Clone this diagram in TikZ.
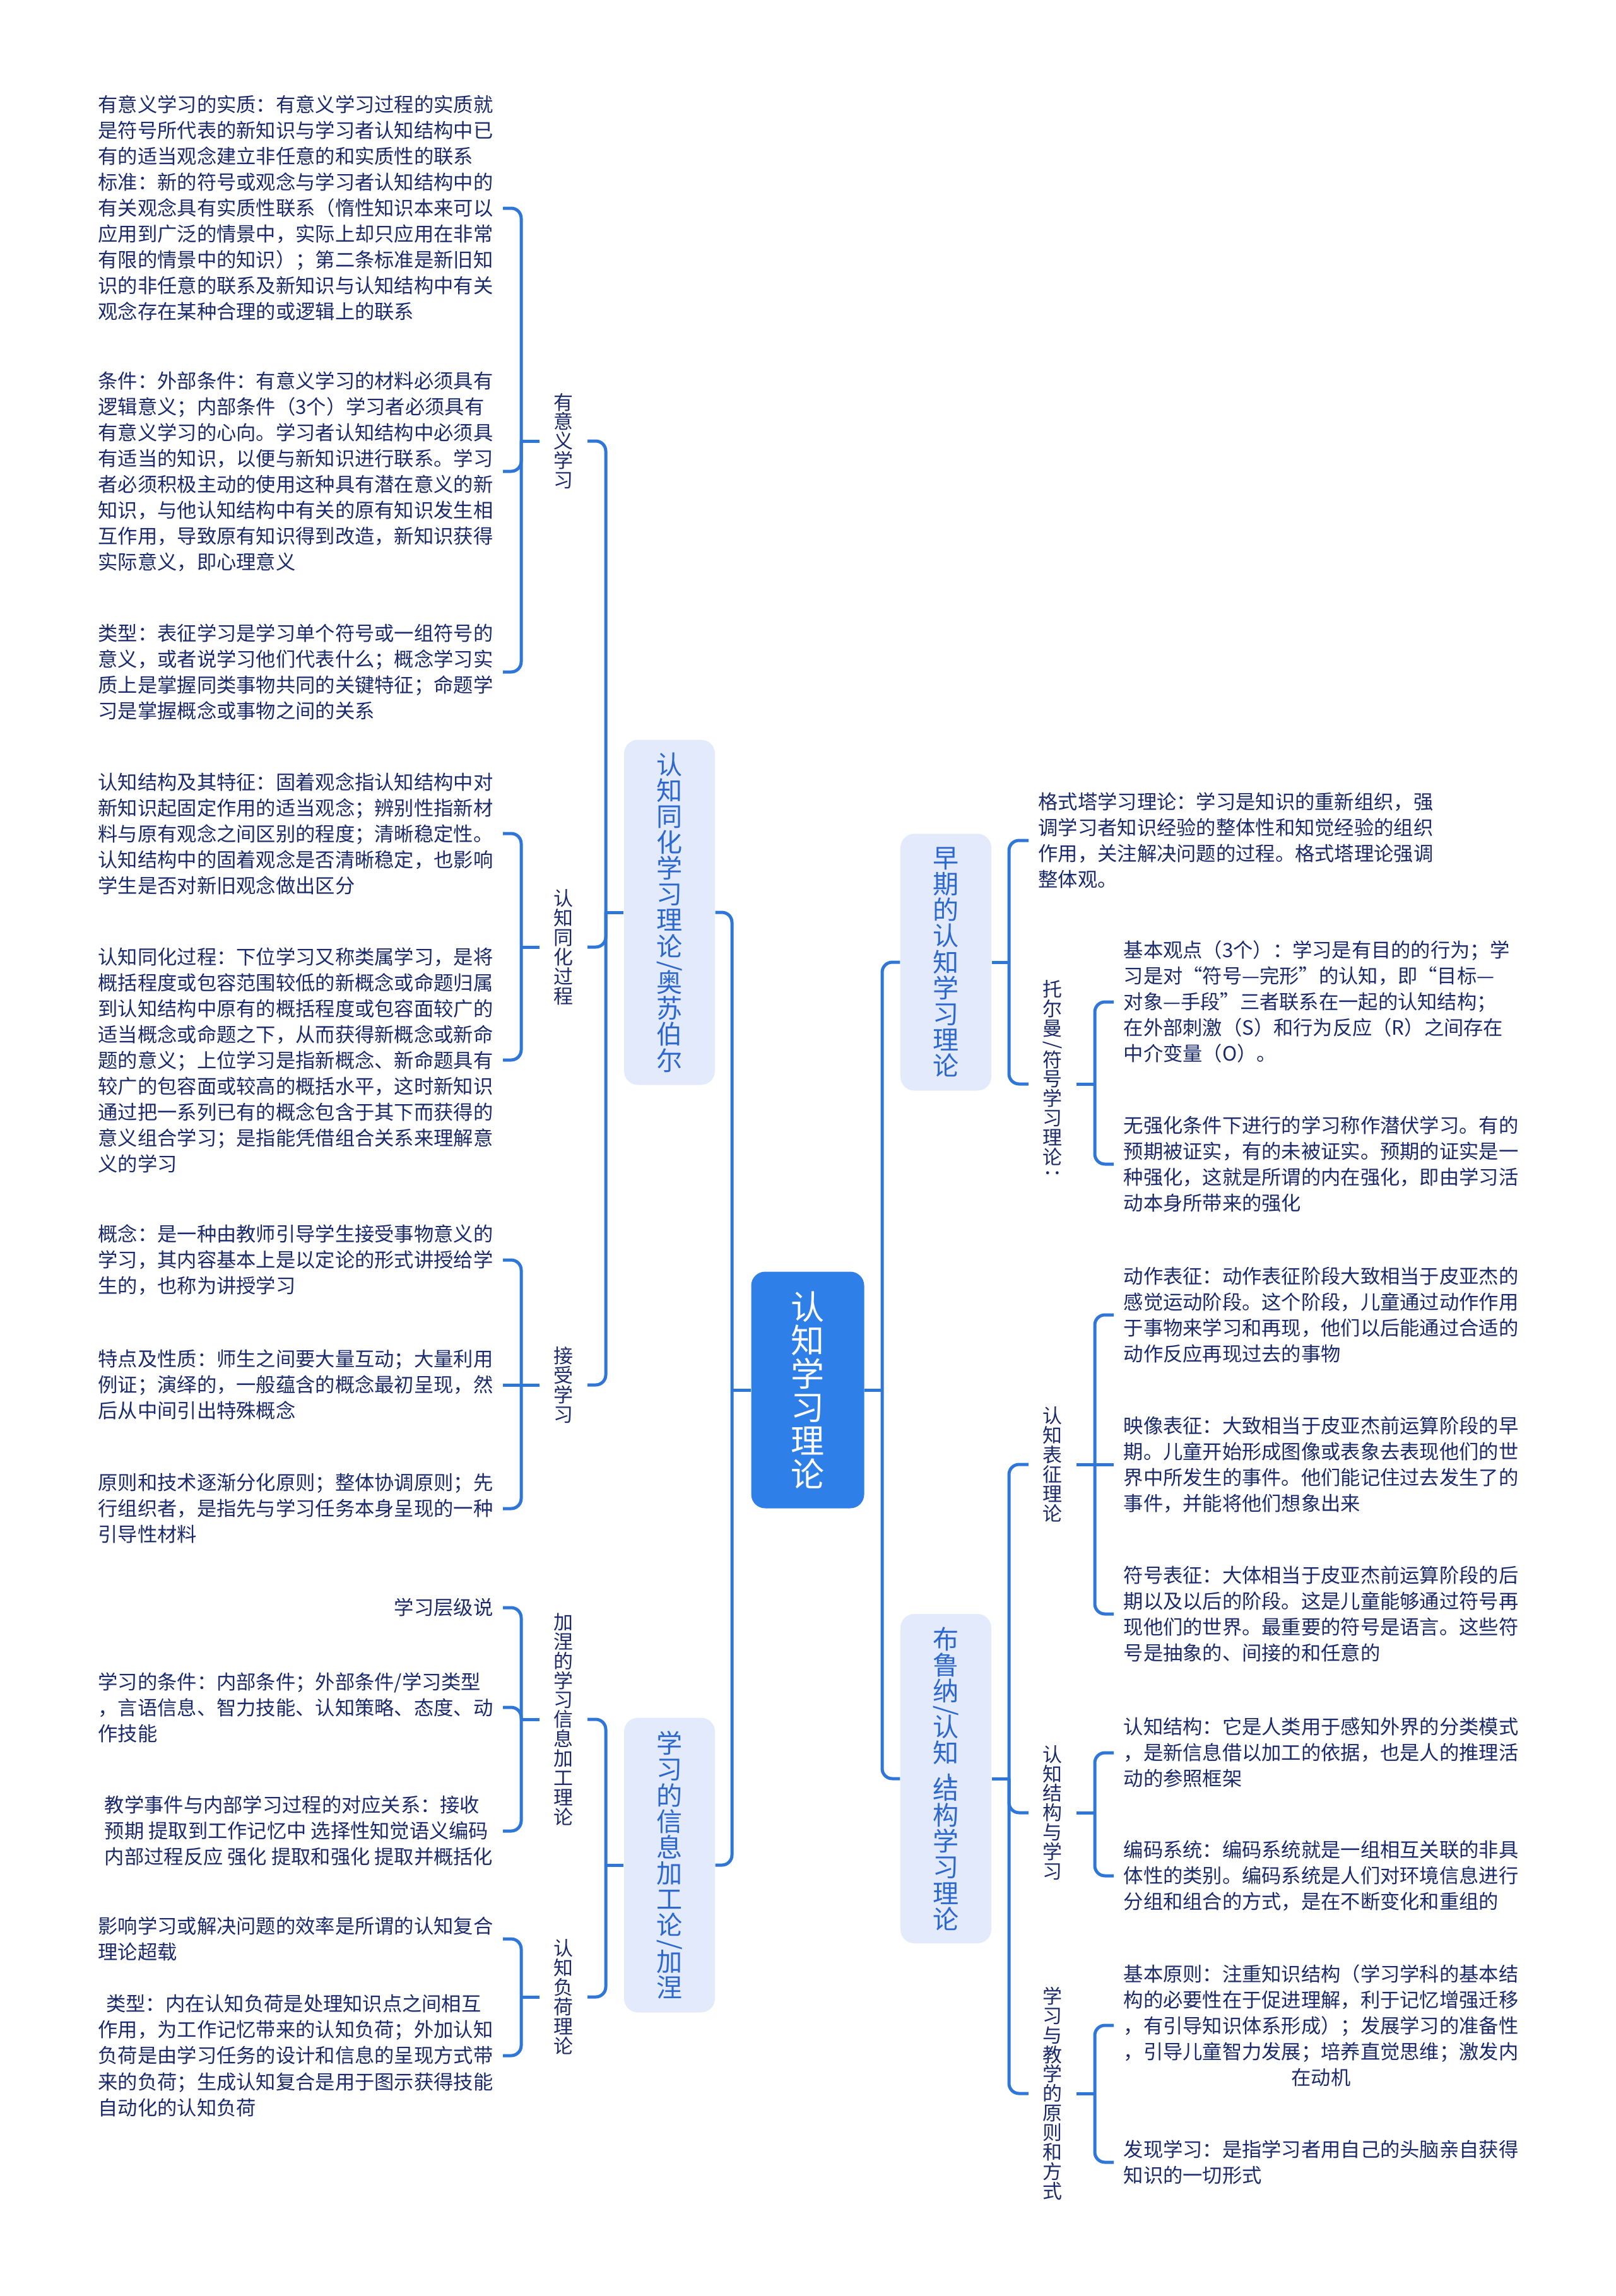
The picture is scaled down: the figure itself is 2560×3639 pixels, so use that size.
\documentclass[tikz,border=0pt]{standalone}
\usepackage{fontspec}
\setmainfont{Noto Sans CJK SC}
\usepackage{graphicx}
\usepackage{xcolor}
\usepackage{tikz}

\definecolor{rootblue}{HTML}{2F7FE8}
\definecolor{topicbg}{HTML}{E2EAFB}
\definecolor{topicfg}{HTML}{2C68CF}
\definecolor{inkblue}{HTML}{1A2A6C}
\definecolor{linkblue}{HTML}{2F76D9}
\newcommand{\rotch}[1]{\rotatebox[origin=c]{-90}{#1}}
\lineskiplimit=-100pt

\begin{document}
\begin{tikzpicture}[
    x=0.1mm, y=-0.1mm,
    mainbox/.style={rectangle, rounded corners=2.2mm, fill=rootblue, text=white, minimum width=17.9mm, minimum height=37.5mm, align=center, inner sep=0pt, font=\fontsize{15.1}{15.1}\selectfont},
    topicbox/.style={rectangle, rounded corners=2.2mm, fill=topicbg, text=topicfg, minimum width=14.4mm, align=center, inner sep=0pt, font=\fontsize{11.7}{11.7}\selectfont},
    sublabel/.style={align=center, text=inkblue, inner xsep=2.2mm, inner ysep=0pt, font=\fontsize{8.8}{8.8}\selectfont},
    leafL/.style={anchor=east, align=left, text=inkblue, inner xsep=1.5mm, inner ysep=0.5mm, font=\fontsize{8.9}{11.67}\selectfont},
    leafR/.style={leafL, anchor=west},
    link/.style={draw=linkblue, line width=0.5mm, rounded corners=1.6mm},
]
\useasboundingbox (0,0) rectangle (2560,3639);
\fill[white] (0,0) rectangle (2560,3639);

\node[mainbox] (root) at (1280,2203) {认\\知\\学\\习\\理\\论};

\node[topicbox, minimum height=54.7mm] (t_ausubel) at (1061,1446) {认\\知\\同\\化\\学\\习\\理\\论\\[-0.3em]\rotch{/}\\[-0.3em]奥\\苏\\伯\\尔};
\node[topicbox, minimum height=46.7mm] (t_gagne) at (1061,2956) {学\\习\\的\\信\\息\\加\\工\\论\\[-0.3em]\rotch{/}\\[-0.3em]加\\涅};
\node[topicbox, minimum height=40.7mm] (t_early) at (1499,1525) {早\\期\\的\\认\\知\\学\\习\\理\\论};
\node[topicbox, minimum height=52.2mm] (t_bruner) at (1499,2819) {布\\鲁\\纳\\[-0.3em]\rotch{/}\\[-0.3em]认\\知\\[-0.3em]\rotch{-}\\[-0.3em]结\\构\\学\\习\\理\\论};

\node[sublabel] (s_meaning) at (893,699) {有\\意\\义\\学\\习};
\node[sublabel] (s_assim) at (893,1501) {认\\知\\同\\化\\过\\程};
\node[sublabel] (s_accept) at (893,2195) {接\\受\\学\\习};
\node[sublabel] (s_info) at (893,2725) {加\\涅\\的\\学\\习\\信\\息\\加\\工\\理\\论};
\node[sublabel] (s_load) at (893,3165) {认\\知\\负\\荷\\理\\论};
\node[sublabel] (s_tolman) at (1668,1718) {托\\尔\\曼\\[-0.2em]\rotch{/}\\[-0.2em]符\\号\\学\\习\\理\\论\\\rotch{：}};
\node[sublabel] (s_repr) at (1668,2321) {认\\知\\表\\征\\理\\论};
\node[sublabel] (s_struct) at (1668,2873) {认\\知\\结\\构\\与\\学\\习};
\node[sublabel] (s_teach) at (1668,3318) {学\\习\\与\\教\\学\\的\\原\\则\\和\\方\\式};

\node[leafL] (l_mean_a) at (797,330) {有意义学习的实质：有意义学习过程的实质就\\是符号所代表的新知识与学习者认知结构中已\\有的适当观念建立非任意的和实质性的联系\\标准：新的符号或观念与学习者认知结构中的\\有关观念具有实质性联系（惰性知识本来可以\\应用到广泛的情景中，实际上却只应用在非常\\有限的情景中的知识）；第二条标准是新旧知\\识的非任意的联系及新知识与认知结构中有关\\观念存在某种合理的或逻辑上的联系};
\node[leafL] (l_mean_b) at (797,747) {条件：外部条件：有意义学习的材料必须具有\\逻辑意义；内部条件（3个）学习者必须具有\\有意义学习的心向。学习者认知结构中必须具\\有适当的知识，以便与新知识进行联系。学习\\者必须积极主动的使用这种具有潜在意义的新\\知识，与他认知结构中有关的原有知识发生相\\互作用，导致原有知识得到改造，新知识获得\\实际意义，即心理意义};
\node[leafL] (l_mean_c) at (797,1065) {类型：表征学习是学习单个符号或一组符号的\\意义，或者说学习他们代表什么；概念学习实\\质上是掌握同类事物共同的关键特征；命题学\\习是掌握概念或事物之间的关系};
\node[leafL] (l_assim_a) at (797,1321) {认知结构及其特征：固着观念指认知结构中对\\新知识起固定作用的适当观念；辨别性指新材\\料与原有观念之间区别的程度；清晰稳定性。\\认知结构中的固着观念是否清晰稳定，也影响\\学生是否对新旧观念做出区分};
\node[leafL] (l_assim_b) at (797,1680) {认知同化过程：下位学习又称类属学习，是将\\概括程度或包容范围较低的新概念或命题归属\\到认知结构中原有的概括程度或包容面较广的\\适当概念或命题之下，从而获得新概念或新命\\题的意义；上位学习是指新概念、新命题具有\\较广的包容面或较高的概括水平，这时新知识\\通过把一系列已有的概念包含于其下而获得的\\意义组合学习；是指能凭借组合关系来理解意\\义的学习};
\node[leafL] (l_accept_a) at (797,1997) {概念：是一种由教师引导学生接受事物意义的\\学习，其内容基本上是以定论的形式讲授给学\\生的，也称为讲授学习};
\node[leafL] (l_accept_b) at (797,2195) {特点及性质：师生之间要大量互动；大量利用\\例证；演绎的，一般蕴含的概念最初呈现，然\\后从中间引出特殊概念};
\node[leafL] (l_accept_c) at (797,2391) {原则和技术逐渐分化原则；整体协调原则；先\\行组织者，是指先与学习任务本身呈现的一种\\引导性材料};
\node[leafL] (l_info_a) at (797,2548) {学习层级说};
\node[leafL] (l_info_b) at (797,2706) {学习的条件：内部条件；外部条件/学习类型\\，言语信息、智力技能、认知策略、态度、动\\作技能};
\node[leafL] (l_info_c) at (797,2902) {教学事件与内部学习过程的对应关系：接收\\预期 提取到工作记忆中 选择性知觉语义编码\\内部过程反应 强化 提取和强化 提取并概括化};
\node[leafL] (l_load_a) at (797,3073) {影响学习或解决问题的效率是所谓的认知复合\\理论超载};
\node[leafL] (l_load_b) at (797,3258) {\hspace{0.4em}类型：内在认知负荷是处理知识点之间相互\\作用，为工作记忆带来的认知负荷；外加认知\\负荷是由学习任务的设计和信息的呈现方式带\\来的负荷；生成认知复合是用于图示获得技能\\自动化的认知负荷};

\node[leafR] (l_gestalt) at (1630,1332) {格式塔学习理论：学习是知识的重新组织，强\\调学习者知识经验的整体性和知觉经验的组织\\作用，关注解决问题的过程。格式塔理论强调\\整体观。};
\node[leafR] (l_tolman_a) at (1765,1588) {基本观点（3个）：学习是有目的的行为；学\\习是对“符号—完形”的认知，即“目标—\\对象—手段”三者联系在一起的认知结构；\\在外部刺激（S）和行为反应（R）之间存在\\中介变量（O）。};
\node[leafR] (l_tolman_b) at (1765,1845) {无强化条件下进行的学习称作潜伏学习。有的\\预期被证实，有的未被证实。预期的证实是一\\种强化，这就是所谓的内在强化，即由学习活\\动本身所带来的强化};
\node[leafR] (l_repr_a) at (1765,2084) {动作表征：动作表征阶段大致相当于皮亚杰的\\感觉运动阶段。这个阶段，儿童通过动作作用\\于事物来学习和再现，他们以后能通过合适的\\动作反应再现过去的事物};
\node[leafR] (l_repr_b) at (1765,2321) {映像表征：大致相当于皮亚杰前运算阶段的早\\期。儿童开始形成图像或表象去表现他们的世\\界中所发生的事件。他们能记住过去发生了的\\事件，并能将他们想象出来};
\node[leafR] (l_repr_c) at (1765,2558) {符号表征：大体相当于皮亚杰前运算阶段的后\\期以及以后的阶段。这是儿童能够通过符号再\\现他们的世界。最重要的符号是语言。这些符\\号是抽象的、间接的和任意的};
\node[leafR] (l_struct_a) at (1765,2778) {认知结构：它是人类用于感知外界的分类模式\\，是新信息借以加工的依据，也是人的推理活\\动的参照框架};
\node[leafR] (l_struct_b) at (1765,2973) {编码系统：编码系统就是一组相互关联的非具\\体性的类别。编码系统是人们对环境信息进行\\分组和组合的方式，是在不断变化和重组的};
\node[leafR, align=center] (l_teach_a) at (1765,3210) {基本原则：注重知识结构（学习学科的基本结\\构的必要性在于促进理解，利于记忆增强迁移\\，有引导知识体系形成）；发展学习的准备性\\，引导儿童智力发展；培养直觉思维；激发内\\在动机};
\node[leafR] (l_teach_b) at (1765,3427) {发现学习：是指学习者用自己的头脑亲自获得\\知识的一切形式};

\coordinate (j_root_l) at (1160,2203);
\coordinate (j_root_r) at (1398,2203);
\coordinate (j_ausubel) at (960,1446);
\coordinate (j_gagne) at (960,2956);
\coordinate (j_early) at (1599,1525);
\coordinate (j_bruner) at (1599,2819);
\coordinate (j_meaning) at (826,699);
\coordinate (j_assim) at (826,1501);
\coordinate (j_accept) at (826,2195);
\coordinate (j_info) at (826,2725);
\coordinate (j_load) at (826,3165);
\coordinate (j_tolman) at (1735,1718);
\coordinate (j_repr) at (1735,2321);
\coordinate (j_struct) at (1735,2873);
\coordinate (j_teach) at (1735,3318);

\draw[link] (root.west) -- (j_root_l);
\draw[link] (j_root_l) |- (t_ausubel.east);
\draw[link] (j_root_l) |- (t_gagne.east);
\draw[link] (root.east) -- (j_root_r);
\draw[link] (j_root_r) |- (t_early.west);
\draw[link] (j_root_r) |- (t_bruner.west);

\draw[link] (t_ausubel.west) -- (j_ausubel);
\draw[link] (j_ausubel) |- (s_meaning.east);
\draw[link] (j_ausubel) |- (s_assim.east);
\draw[link] (j_ausubel) |- (s_accept.east);
\draw[link] (t_gagne.west) -- (j_gagne);
\draw[link] (j_gagne) |- (s_info.east);
\draw[link] (j_gagne) |- (s_load.east);
\draw[link] (t_early.east) -- (j_early);
\draw[link] (j_early) |- (l_gestalt.west);
\draw[link] (j_early) |- (s_tolman.west);
\draw[link] (t_bruner.east) -- (j_bruner);
\draw[link] (j_bruner) |- (s_repr.west);
\draw[link] (j_bruner) |- (s_struct.west);
\draw[link] (j_bruner) |- (s_teach.west);

\draw[link] (s_meaning.west) -- (j_meaning);
\draw[link] (j_meaning) |- (l_mean_a.east);
\draw[link] (j_meaning) |- (l_mean_b.east);
\draw[link] (j_meaning) |- (l_mean_c.east);
\draw[link] (s_assim.west) -- (j_assim);
\draw[link] (j_assim) |- (l_assim_a.east);
\draw[link] (j_assim) |- (l_assim_b.east);
\draw[link] (s_accept.west) -- (j_accept);
\draw[link] (j_accept) |- (l_accept_a.east);
\draw[link] (j_accept) -- (l_accept_b.east);
\draw[link] (j_accept) |- (l_accept_c.east);
\draw[link] (s_info.west) -- (j_info);
\draw[link] (j_info) |- (l_info_a.east);
\draw[link] (j_info) |- (l_info_b.east);
\draw[link] (j_info) |- (l_info_c.east);
\draw[link] (s_load.west) -- (j_load);
\draw[link] (j_load) |- (l_load_a.east);
\draw[link] (j_load) |- (l_load_b.east);

\draw[link] (s_tolman.east) -- (j_tolman);
\draw[link] (j_tolman) |- (l_tolman_a.west);
\draw[link] (j_tolman) |- (l_tolman_b.west);
\draw[link] (s_repr.east) -- (j_repr);
\draw[link] (j_repr) |- (l_repr_a.west);
\draw[link] (j_repr) -- (l_repr_b.west);
\draw[link] (j_repr) |- (l_repr_c.west);
\draw[link] (s_struct.east) -- (j_struct);
\draw[link] (j_struct) |- (l_struct_a.west);
\draw[link] (j_struct) |- (l_struct_b.west);
\draw[link] (s_teach.east) -- (j_teach);
\draw[link] (j_teach) |- (l_teach_a.west);
\draw[link] (j_teach) |- (l_teach_b.west);
\end{tikzpicture}
\end{document}
